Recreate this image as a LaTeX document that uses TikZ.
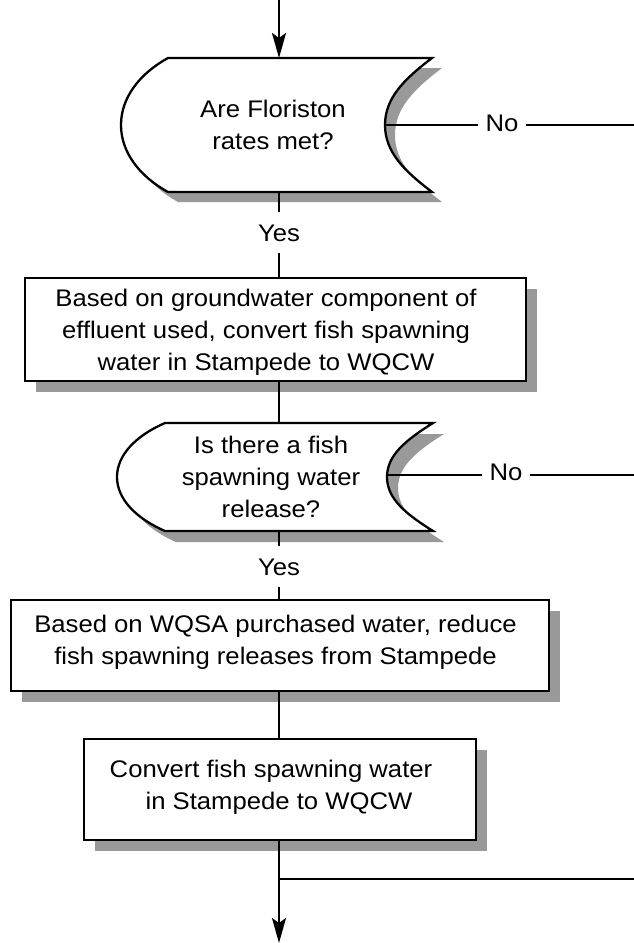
\documentclass[tikz,border=0pt]{standalone}
\usepackage{fontspec}
\setmainfont{Liberation Sans}[FakeStretch=1.07]
\usetikzlibrary{arrows.meta,shadows}

\definecolor{shadowgray}{HTML}{999999}

% Decision outline: #1 left bulge x, #2 left corner x, #3 right corner x,
% #4 inner (concave) x, #5 top y, #6 bottom y
\newcommand\decpath[6]{%
  (#2,#5) -- (#3,#5)
  .. controls ({#3-0.6*(#3-#4)},{#5+0.16*(#6-#5)}) and (#4,{#5+0.3*(#6-#5)}) .. (#4,{(#5+#6)/2})
  .. controls (#4,{#6-0.3*(#6-#5)}) and ({#3-0.6*(#3-#4)},{#6-0.16*(#6-#5)}) .. (#3,#6)
  -- (#2,#6)
  .. controls ({#2-0.62*(#2-#1)},{#6-0.12*(#6-#5)}) and (#1,{#6-0.3*(#6-#5)}) .. (#1,{(#5+#6)/2})
  .. controls (#1,{#5+0.3*(#6-#5)}) and ({#2-0.62*(#2-#1)},{#5+0.12*(#6-#5)}) .. cycle}

\tikzset{
  txt/.style={font=\fontsize{24}{32}\selectfont, align=center, inner sep=0pt},
  procbox/.style={draw=black, line width=2.6pt, fill=white,
    general shadow={fill=shadowgray, shadow xshift=11pt, shadow yshift=-11pt},
    inner sep=0pt},
  decline/.style={draw=black, line width=2.3pt, fill=white},
  decshadow/.style={fill=shadowgray},
  flow/.style={line width=2.5pt},
  arrowflow/.style={flow, -{Stealth[length=25pt,width=14pt,inset=5pt]}},
  yeslbl/.style={font=\fontsize{24}{32}\selectfont, text height=17.2pt, text depth=0pt,
    inner xsep=2pt, inner ysep=12pt},
  nolbl/.style={font=\fontsize{24}{32}\selectfont, text height=17.2pt, text depth=0pt,
    inner xsep=7pt, inner ysep=2pt},
}

\begin{document}
\begin{tikzpicture}[x=1pt,y=-1pt]
\useasboundingbox (0,0) rectangle (634,943);

% ---- decision 1 ----
\fill[decshadow, shift={(10,10)}] \decpath{121}{168}{432}{385}{58}{192};
\draw[decline] \decpath{121}{168}{432}{385}{58}{192};
\node[minimum width=311pt, minimum height=134pt, inner sep=0pt] (d1) at (276.5,125) {};
\node[txt] (d1t) at (273,125) {Are Floriston\\rates met?};
\coordinate (d1top) at (279,58);
\coordinate (d1bot) at (279,192);
\coordinate (d1east) at (385,125);

% ---- process box 1 ----
\node[procbox, minimum width=501pt, minimum height=103pt] (b1) at (275.5,329.5) {};
\node[txt] (b1t) at (266,332) {Based on groundwater component of\\effluent used, convert fish spawning\\water in Stampede to WQCW};

% ---- decision 2 ----
\fill[decshadow, shift={(11,11)}] \decpath{117}{165}{433}{387}{423}{531};
\draw[decline] \decpath{117}{165}{433}{387}{423}{531};
\node[minimum width=316pt, minimum height=108pt, inner sep=0pt] (d2) at (275,477) {};
\node[txt] (d2t) at (271,476.5) {Is there a fish\\spawning water\\release?};
\coordinate (d2top) at (279,423);
\coordinate (d2bot) at (279,531);
\coordinate (d2east) at (387,475);

% ---- process box 2 ----
\node[procbox, minimum width=538pt, minimum height=91pt] (b2) at (280,645.5) {};
\node[txt] (b2t) at (275.5,642) {Based on WQSA purchased water, reduce\\fish spawning releases from Stampede};

% ---- process box 3 ----
\node[procbox, minimum width=392pt, minimum height=101pt] (b3) at (280,789.5) {};
\node[txt] (b3t) at (271,787) {Convert fish spawning water\\\hspace*{16pt}in Stampede to WQCW};

% ---- labels ----
\node[yeslbl] (y1) at (279,232.5) {Yes};
\node[yeslbl] (y2) at (279,566.5) {Yes};
\node[nolbl] (n1) at (502,123) {No};
\node[nolbl] (n2) at (506,472) {No};

% ---- free ends ----
\coordinate (start) at (279,0);
\coordinate (finish) at (279,943);
\coordinate (e1) at (634,125);
\coordinate (e2) at (634,475);
\coordinate (j) at (279,879);
\coordinate (e3) at (634,879);

% ---- connectors ----
\draw[arrowflow] (start) -- (d1top);
\draw[flow] (d1bot) -- (y1.north);
\draw[flow] (y1.south) -- (y1.south |- b1.north);
\draw[flow] (b1.south -| d1bot) -- (d2top);
\draw[flow] (d2bot) -- (y2.north);
\draw[flow] (y2.south) -- (y2.south |- b2.north);
\draw[flow] (b2.south -| d1bot) -- (b3.north -| d1bot);
\draw[arrowflow] (b3.south -| d1bot) -- (finish);
\draw[flow] (j) -- (e3);
\draw[flow] (d1east) -- (n1.west |- d1east);
\draw[flow] (n1.east |- e1) -- (e1);
\draw[flow] (d2east) -- (n2.west |- d2east);
\draw[flow] (n2.east |- e2) -- (e2);
\end{tikzpicture}
\end{document}
